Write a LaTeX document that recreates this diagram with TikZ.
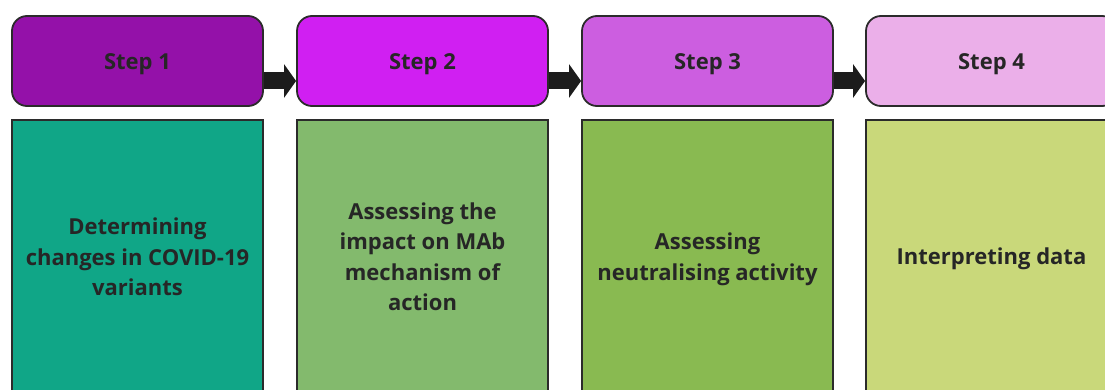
\documentclass[tikz,border=0pt]{standalone}
\usepackage{fontspec}
\setmainfont{Open Sans}
\usetikzlibrary{arrows.meta}
\definecolor{hdA}{HTML}{9411A9}
\definecolor{hdB}{HTML}{D01FF2}
\definecolor{hdC}{HTML}{CC5EE0}
\definecolor{hdD}{HTML}{EBAFE9}
\definecolor{bdA}{HTML}{10A687}
\definecolor{bdB}{HTML}{83BA6D}
\definecolor{bdC}{HTML}{89BA51}
\definecolor{bdD}{HTML}{C9D87A}
\definecolor{ink}{HTML}{262626}
\definecolor{edge}{HTML}{2B2B2B}
\definecolor{arrowfill}{HTML}{1C1C1C}
\tikzset{
  header/.style={draw=edge, line width=1.8pt, rounded corners=15pt,
    minimum width=251pt, minimum height=90pt, inner sep=0pt,
    font=\fontsize{22}{26}\selectfont\bfseries, text=ink},
  body/.style={draw=edge, line width=1.6pt,
    minimum width=251pt, minimum height=272pt, inner sep=0pt,
    align=center, font=\fontsize{22}{30.5}\selectfont\bfseries, text=ink},
  flow/.style={arrowfill, line width=17pt,
    -{Triangle[length=12pt,width=33pt]}}
}
% move the text down a little while keeping its box dimensions
\newcommand{\lowered}[1]{\raisebox{-3pt}[\height][\depth]{#1}}
\begin{document}
\begin{tikzpicture}[x=1pt,y=-1pt]
\useasboundingbox (0,0) rectangle (1105,390);
\clip (0,0) rectangle (1105,390);
% step headers
\node[header, fill=hdA] (s1) at (137.5,61) {\lowered{Step 1}};
\node[header, fill=hdB] (s2) at (422.5,61) {\lowered{Step 2}};
\node[header, fill=hdC] (s3) at (707.5,61) {\lowered{Step 3}};
\node[header, fill=hdD] (s4) at (991.5,61) {\lowered{Step 4}};
% step descriptions
\node[body, fill=bdA] (b1) at (137.5,256) {\lowered{\begin{tabular}{@{}c@{}}Determining\\changes in COVID-19\\variants\end{tabular}}};
\node[body, fill=bdB] (b2) at (422.5,256) {\lowered{\begin{tabular}{@{}c@{}}Assessing the\\impact on MAb\\mechanism of\\action\end{tabular}}};
\node[body, fill=bdC] (b3) at (707.5,256) {\lowered{\begin{tabular}{@{}c@{}}Assessing\\neutralising activity\end{tabular}}};
\node[body, fill=bdD] (b4) at (991.5,256) {\lowered{Interpreting data}};
% arrows between the headers
\draw[flow] ([yshift=-20pt]s1.east) -- ([yshift=-20pt]s2.west);
\draw[flow] ([yshift=-20pt]s2.east) -- ([yshift=-20pt]s3.west);
\draw[flow] ([yshift=-20pt]s3.east) -- ([yshift=-20pt]s4.west);
\end{tikzpicture}
\end{document}
